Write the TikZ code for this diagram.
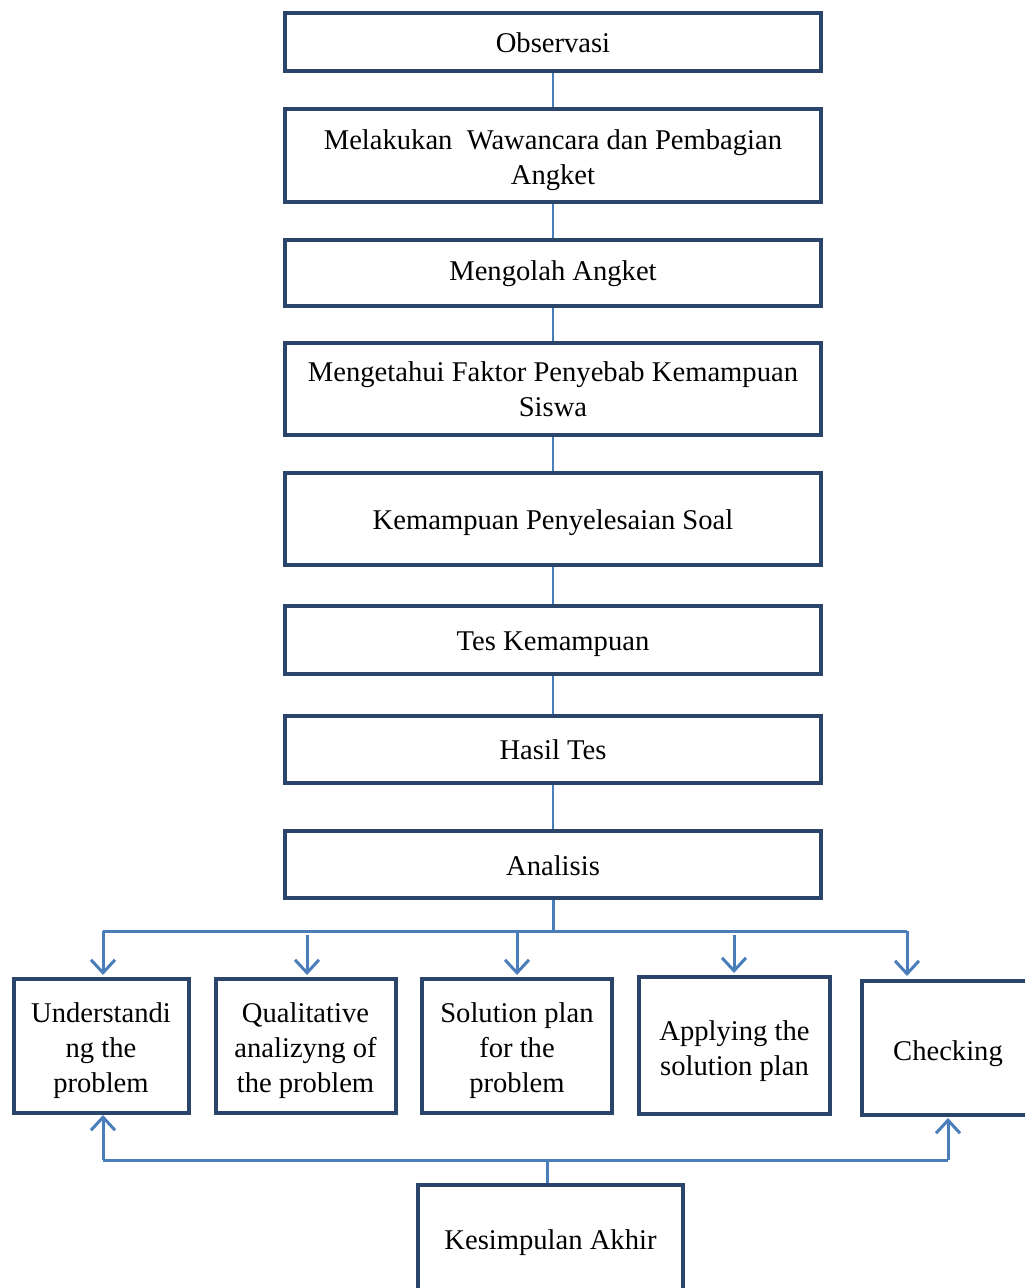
\documentclass[tikz,border=0pt]{standalone}
\usepackage{fontspec}
\setmainfont{Liberation Serif}
\usetikzlibrary{arrows.meta}
\definecolor{boxcol}{RGB}{43,68,106}
\definecolor{linecol}{RGB}{74,126,187}
\newcommand\liftline[1]{\rule{0pt}{#1}}
\begin{document}
\begin{tikzpicture}[x=1pt,y=-1pt,
  box/.style={draw=boxcol,line width=4pt,rectangle,inner sep=0pt,align=center,
    font=\fontsize{28.6}{35}\selectfont,text=black},
  lower/.style={execute at begin node={\rule{0pt}{#1}}},
  mainbox/.style={box,minimum width=536pt},
  conn/.style={draw=linecol,line width=2pt},
  branch/.style={draw=linecol,line width=3pt},
  arr/.style={branch,-{Straight Barb[length=13pt,width=24pt,line width=3pt]}}]
\useasboundingbox (0,0) rectangle (1025,1288);
\clip (0,0) rectangle (1025,1288);
% main column
\node[mainbox,minimum height=58pt,lower=21pt] (obs) at (553,42) {Observasi};
\node[mainbox,minimum height=93pt] (mel) at (553,155.5) {\liftline{29pt}Melakukan\ \ Wawancara dan Pembagian\\Angket};
\node[mainbox,minimum height=66pt,lower=22pt] (olah) at (553,273) {Mengolah Angket};
\node[mainbox,minimum height=92pt] (tahu) at (553,389) {\liftline{21pt}Mengetahui Faktor Penyebab Kemampuan\\Siswa};
\node[mainbox,minimum height=92pt,lower=27pt] (kemp) at (553,519) {Kemampuan Penyelesaian Soal};
\node[mainbox,minimum height=68pt,lower=27pt] (tes) at (553,640) {Tes Kemampuan};
\node[mainbox,minimum height=67pt,lower=21pt] (hasil) at (553,749.5) {Hasil Tes};
\node[mainbox,minimum height=67pt,lower=23pt] (anal) at (553,864.5) {Analisis};
% bottom row
\node[box,minimum width=175pt,minimum height=134pt] (und) at (101,1046) {\liftline{30pt}Understandi\\ng the\\problem};
\node[box,minimum width=180pt,minimum height=134pt] (qual) at (305.5,1046) {\liftline{30pt}Qualitative\\analizyng of\\the problem};
\node[box,minimum width=190pt,minimum height=134pt] (sol) at (517,1046) {\liftline{30pt}Solution plan\\for the\\problem};
\node[box,minimum width=191pt,minimum height=137pt] (app) at (734.5,1045.5) {\liftline{31pt}Applying the\\solution plan};
\node[box,minimum width=172pt,minimum height=134pt,lower=31pt] (chk) at (948,1048) {Checking};
\node[box,minimum width=265pt,minimum height=110pt,lower=25pt] (kes) at (550.5,1240) {Kesimpulan Akhir};
% connectors main column
\draw[conn] (obs.south) -- (mel.north);
\draw[conn] (mel.south) -- (olah.north);
\draw[conn] (olah.south) -- (tahu.north);
\draw[conn] (tahu.south) -- (kemp.north);
\draw[conn] (kemp.south) -- (tes.north);
\draw[conn] (tes.south) -- (hasil.north);
\draw[conn] (hasil.south) -- (anal.north);
% branching
\coordinate (bl) at (103,931);
\coordinate (bm) at (553,931);
\coordinate (br) at (907,931);
\draw[branch] (anal.south) -- (bm);
\draw[branch] (bl) -- (br);
\draw[arr] (bl) -- (103,975);
\draw[arr] (307,935) -- (307,975);
\draw[arr] (517,931) -- (517,975);
\draw[arr] (734,935) -- (734,973);
\draw[arr] (br) -- (907,976);
% lower feedback
\coordinate (lm) at (547,1160);
\coordinate (ll) at (103,1160);
\coordinate (lr) at (948,1160);
\draw[branch] (kes.north -| lm) -- (lm);
\draw[branch] (ll) -- (lr);
\draw[arr] (ll) -- (103,1115);
\draw[arr] (lr) -- (948,1118);
\end{tikzpicture}
\end{document}
